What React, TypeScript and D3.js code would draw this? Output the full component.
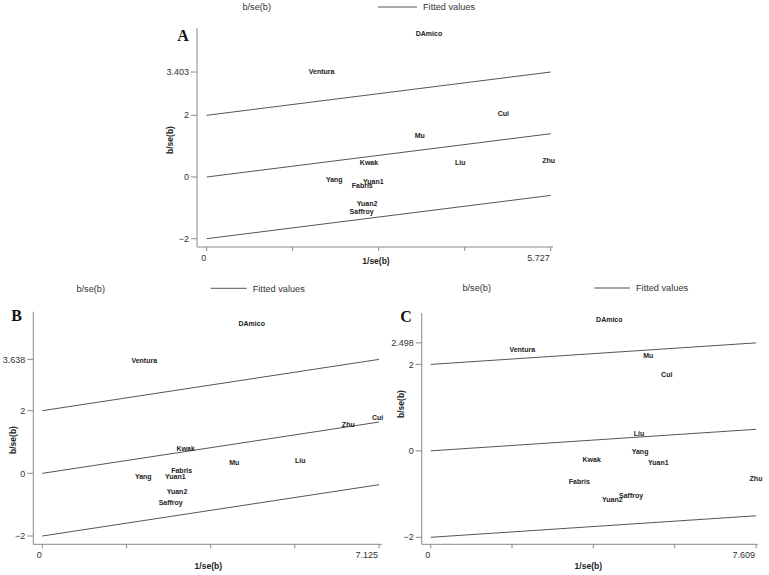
import React from "react";
import * as d3 from "d3";

const studies = ["DAmico", "Ventura", "Cui", "Mu", "Kwak", "Liu", "Zhu", "Yang", "Yuan1", "Fabris", "Yuan2", "Saffroy"];

// Panel A
const precA = [3.7, 1.914, 4.94, 3.546, 2.702, 4.222, 5.693, 2.124, 2.774, 2.59, 2.669, 2.58];
const zA = [4.645, 3.413, 2.05, 1.329, 0.464, 0.476, 0.528, -0.097, -0.162, -0.292, -0.875, -1.112];
// Panel B
const precB = [4.431, 2.158, 7.097, 4.063, 3.034, 5.46, 6.475, 2.137, 2.814, 2.95, 2.85, 2.717];
const zB = [4.792, 3.597, 1.795, 0.329, 0.799, 0.393, 1.569, -0.118, -0.118, 0.105, -0.575, -0.936];
// Panel C
const precC = [4.178, 2.142, 5.521, 5.09, 3.766, 4.873, 7.609, 4.897, 5.324, 3.476, 4.248, 4.687];
const zC = [3.049, 2.34, 1.766, 2.199, -0.208, 0.393, -0.648, -0.023, -0.278, -0.711, -1.118, -1.04];

const panelLetters = ["A", "B", "C"];
const xMaxValues = [5.727, 7.125, 7.609];
const fitEndValues = [1.403, 1.638, 0.498]; // fitted line value at x max
const bandOffsets = [-2, 0, 2];
const legendLabels = ["b/se(b)", "Fitted values"];
const xTitle = "1/se(b)";
const yTitle = "b/se(b)";

const layouts = [
  { x0: 206.7, x1: 550.7, yLo: 238.7, yHi: 115.3, axX: 197, axY: 247, axTop: 28, axRight: 553,
    letter: [183, 35], yt: [170, 140], xt: [376, 261], legY: 7, legA: 256.7, legL: [378, 417] },
  { x0: 42.3, x1: 379, yLo: 536, yHi: 410.7, axX: 33.3, axY: 544.3, axTop: 311.7, axRight: 382,
    letter: [16.7, 315], yt: [12.7, 440], xt: [208.3, 566], legY: 288.3, legA: 90.7, legL: [210.7, 246.7] },
  { x0: 430.7, x1: 756, yLo: 537.3, yHi: 364.4, axX: 421.7, axY: 544.3, axTop: 313, axRight: 758,
    letter: [406, 316], yt: [401, 404], xt: [588.3, 566], legY: 288, legA: 476.7, legL: [594.3, 630] },
];

const panelsData = [
  { prec: precA, z: zA },
  { prec: precB, z: zB },
  { prec: precC, z: zC },
];

const SANS = "'Liberation Sans', Arial, sans-serif";
const SERIF = "'Liberation Serif', 'Times New Roman', serif";

function Panel({ i }: { i: number }) {
  const L = layouts[i];
  const xMax = xMaxValues[i];
  const fitEnd = fitEndValues[i];
  const { prec, z } = panelsData[i];
  const x = d3.scaleLinear().domain([0, xMax]).range([L.x0, L.x1]);
  const y = d3.scaleLinear().domain([-2, 2]).range([L.yLo, L.yHi]);
  const slope = fitEnd / xMax;
  const line = d3.line<[number, number]>().x((d) => x(d[0])).y((d) => y(d[1]));
  const yTop = 2 + fitEnd;
  const yTicks = [-2, 0, 2, yTop];
  const xTicks = d3.range(5).map((k) => (k * xMax) / 4);
  const axisColor = "#8a8a8a";
  const textColor = "#333";
  return (
    <g>
      {/* legend */}
      <text x={L.legA} y={L.legY} dy="0.35em" textAnchor="middle" fontFamily={SANS} fontSize={9.2} fill={textColor}>
        {legendLabels[0]}
      </text>
      <line x1={L.legL[0]} x2={L.legL[1]} y1={L.legY} y2={L.legY} stroke="#555" strokeWidth={1} />
      <text x={L.legL[1] + 6} y={L.legY} dy="0.35em" fontFamily={SANS} fontSize={9.2} fill={textColor}>
        {legendLabels[1]}
      </text>
      {/* panel letter */}
      <text x={L.letter[0]} y={L.letter[1]} dy="0.35em" textAnchor="middle" fontFamily={SERIF} fontWeight="bold" fontSize={16} fill="#111">
        {panelLetters[i]}
      </text>
      {/* axes */}
      <line x1={L.axX} x2={L.axX} y1={L.axTop} y2={L.axY} stroke={axisColor} strokeWidth={1} />
      <line x1={L.axX} x2={L.axRight} y1={L.axY} y2={L.axY} stroke={axisColor} strokeWidth={1} />
      {yTicks.map((t, k) => (
        <g key={"y" + k}>
          <line x1={L.axX - 6} x2={L.axX} y1={y(t)} y2={y(t)} stroke={axisColor} />
          <text x={L.axX - 8} y={y(t)} dy="0.35em" textAnchor="end" fontFamily={SANS} fontSize={9} fill={textColor}>
            {k === 3 ? d3.format(".3f")(t) : d3.format("d")(t)}
          </text>
        </g>
      ))}
      {xTicks.map((t, k) => (
        <g key={"x" + k}>
          <line x1={x(t)} x2={x(t)} y1={L.axY} y2={L.axY + 4} stroke={axisColor} />
          {k === 0 && (
            <text x={x(t) - 3} y={L.axY + 11} dy="0.35em" textAnchor="middle" fontFamily={SANS} fontSize={9} fill={textColor}>
              {d3.format("d")(t)}
            </text>
          )}
          {k === 4 && (
            <text x={x(t) - 1} y={L.axY + 11} dy="0.35em" textAnchor="end" fontFamily={SANS} fontSize={9} fill={textColor}>
              {d3.format(".3f")(t)}
            </text>
          )}
        </g>
      ))}
      {/* axis titles */}
      <text x={L.xt[0]} y={L.xt[1]} dy="0.35em" textAnchor="middle" fontFamily={SANS} fontWeight="bold" fontSize={8.5} fill="#222">
        {xTitle}
      </text>
      <text transform={`translate(${L.yt[0]},${L.yt[1]}) rotate(-90)`} dy="0.35em" textAnchor="middle" fontFamily={SANS} fontWeight="bold" fontSize={8.5} fill="#222">
        {yTitle}
      </text>
      {/* fitted lines */}
      {bandOffsets.map((o, k) => (
        <path key={"l" + k} d={line([[0, o], [xMax, o + slope * xMax]]) || ""} fill="none" stroke="#555" strokeWidth={1} />
      ))}
      {/* study labels */}
      {studies.map((s, k) => (
        <text key={s} x={x(prec[k])} y={y(z[k])} dy="0.35em" textAnchor="middle" fontFamily={SANS} fontWeight="bold" fontSize={7} fill="#222">
          {s}
        </text>
      ))}
    </g>
  );
}

export default function App() {
  return (
    <svg width={769} height={575} style={{ position: "absolute", left: 0, top: 0, background: "#fff" }}>
      <rect width={769} height={575} fill="#fff" />
      {[0, 1, 2].map((i) => (
        <Panel key={i} i={i} />
      ))}
    </svg>
  );
}
